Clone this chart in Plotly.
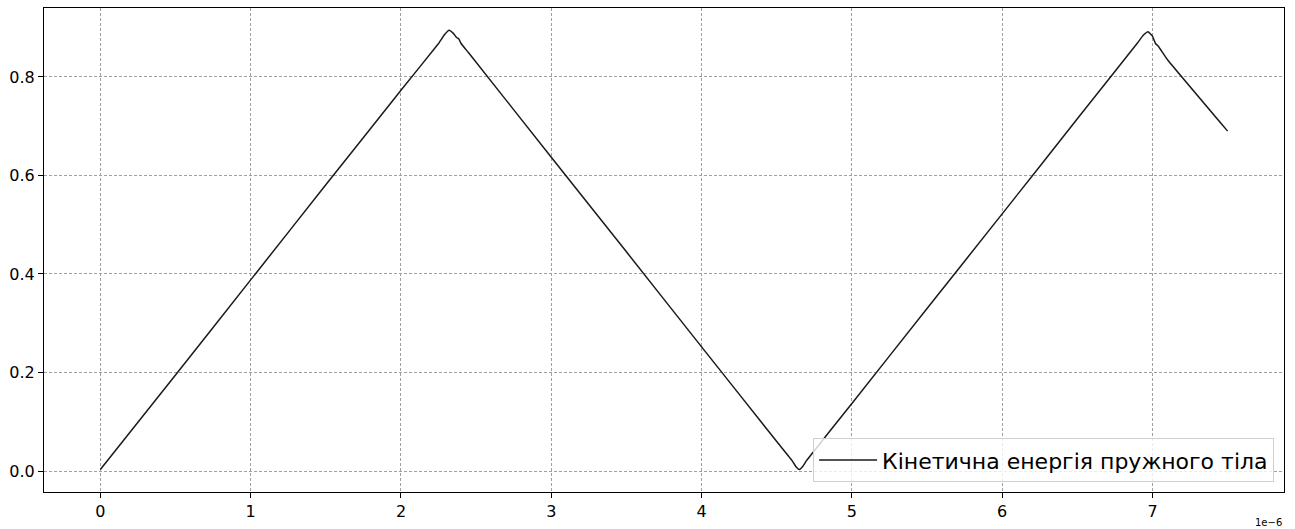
import plotly.graph_objects as go

# Time (in units of 1e-6 s) and kinetic energy of the elastic body
t_us = [0.0, 0.5, 1.0, 1.5, 2.0, 2.25, 2.29, 2.32, 2.35, 2.37, 2.385, 2.40, 2.45,
        3.0, 3.5, 4.0, 4.5, 4.60, 4.63, 4.65, 4.67, 4.70, 5.0, 5.5, 6.0, 6.5,
        6.90, 6.94, 6.97, 7.00, 7.02, 7.04, 7.06, 7.10, 7.5]
energy = [0.003, 0.195, 0.388, 0.581, 0.773, 0.868, 0.886, 0.895, 0.888, 0.880,
          0.877, 0.868, 0.849, 0.637, 0.445, 0.252, 0.060, 0.022, 0.008, 0.003,
          0.008, 0.022, 0.137, 0.330, 0.522, 0.715, 0.869, 0.885, 0.892, 0.883,
          0.868, 0.862, 0.853, 0.835, 0.690]

x_ticks = [0, 1, 2, 3, 4, 5, 6, 7]
y_ticks = [0.0, 0.2, 0.4, 0.6, 0.8]
y_tick_text = ["0.0", "0.2", "0.4", "0.6", "0.8"]
series_name = "Кінетична енергія пружного тіла"

fig = go.Figure()
fig.add_trace(go.Scatter(
    x=t_us, y=energy, mode="lines", name=series_name,
    line=dict(color="#1a1a1a", width=1.5, shape="spline", smoothing=0.3),
))

axis_common = dict(
    showline=True, mirror=True, linecolor="#000000", linewidth=1,
    ticks="outside", ticklen=5, tickwidth=1, tickcolor="#000000",
    showgrid=True, gridcolor="#a0a0a0", gridwidth=1, griddash="3px,2px",
    zeroline=False,
    tickfont=dict(family="DejaVu Sans", size=16, color="#000000"),
)

fig.update_xaxes(range=[-0.375, 7.875], tickvals=x_ticks,
                 ticktext=[str(v) for v in x_ticks], **axis_common)
fig.update_yaxes(range=[-0.0426, 0.940], tickvals=y_ticks,
                 ticktext=y_tick_text, **axis_common)

fig.add_annotation(
    text="1e\u22126", xref="paper", yref="paper", x=1.0, y=0, yshift=-30,
    xanchor="right", yanchor="middle", showarrow=False,
    font=dict(family="DejaVu Sans", size=10, color="#000000"),
)

fig.update_layout(
    width=1295, height=529,
    margin=dict(l=44, r=11, t=8, b=37),
    paper_bgcolor="#ffffff", plot_bgcolor="#ffffff",
    showlegend=True,
    legend=dict(
        x=0.992, y=0.02, xanchor="right", yanchor="bottom",
        bgcolor="rgba(255,255,255,0.8)", bordercolor="#d0d0d0", borderwidth=1,
        itemwidth=58,
        font=dict(family="DejaVu Sans", size=22, color="#000000"),
    ),
)

fig.write_html("out.html")
